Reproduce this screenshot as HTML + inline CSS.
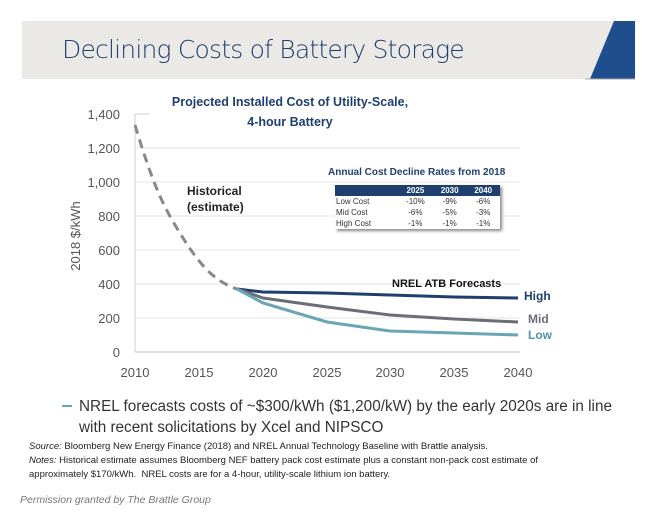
<!DOCTYPE html>
<html><head><meta charset="utf-8"><style>
body{margin:0;background:#fff;width:657px;height:517px;position:relative;overflow:hidden;font-family:"Liberation Sans",sans-serif}
.a{position:absolute;white-space:nowrap}
</style></head><body>
<div class="a" style="left:22px;top:21px;width:613px;height:58px;background:#ebe9e6"></div>
<svg class="a" style="left:0;top:0" width="657" height="517">
<polygon points="614,21 635,21 635,79 590,79" fill="#1f4e8c"/>
<line x1="585" y1="79" x2="635" y2="79" stroke="#aaa" stroke-width="1"/>
<g font-family="Liberation Sans" font-size="13" fill="#555" text-anchor="end">
<text x="120" y="119">1,400</text><text x="120" y="153">1,200</text><text x="120" y="187">1,000</text>
<text x="120" y="221">800</text><text x="120" y="255">600</text><text x="120" y="289">400</text>
<text x="120" y="323">200</text><text x="120" y="357">0</text></g>
<g font-family="Liberation Sans" font-size="13" fill="#555" text-anchor="middle">
<text x="135" y="377">2010</text><text x="199" y="377">2015</text><text x="263" y="377">2020</text>
<text x="327" y="377">2025</text><text x="390" y="377">2030</text><text x="454" y="377">2035</text><text x="518" y="377">2040</text></g>
<text transform="translate(80,236) rotate(-90)" font-size="13" fill="#555" text-anchor="middle">2018 $/kWh</text>
<g stroke="#e6e6e6"><line x1="135" y1="148" x2="520" y2="148"/><line x1="135" y1="182" x2="520" y2="182"/><line x1="135" y1="216" x2="520" y2="216"/><line x1="135" y1="250" x2="520" y2="250"/><line x1="135" y1="284" x2="520" y2="284"/><line x1="135" y1="318" x2="520" y2="318"/></g>
<line x1="135" y1="352" x2="520" y2="352" stroke="#bbb"/>
<line x1="135" y1="114" x2="180" y2="114" stroke="#ccc"/>
<line x1="380" y1="114" x2="410" y2="114" stroke="#ccc"/>
<line x1="135" y1="114" x2="135" y2="352" stroke="#ccc"/>
<path fill="none" stroke="#888" stroke-width="3" stroke-dasharray="9,6" d="M135,125 C150,175 160,200 175,225 C195,258 210,280 237,289"/>
<polyline fill="none" stroke="#1f3f6e" stroke-width="3" points="237,289 263,292 327,293 390,295 454,297 518,298"/>
<polyline fill="none" stroke="#6b6e76" stroke-width="3" points="237,289 263,298 327,307 390,315 454,319 518,322"/>
<polyline fill="none" stroke="#6aa5b5" stroke-width="3" points="237,289 263,303 327,322 390,331 454,333 518,335"/>
<line x1="62" y1="406" x2="72" y2="406" stroke="#6aa5b5" stroke-width="2"/>
</svg>
<div class="a" style="left:62px;top:35px;font-size:25px;color:#1f3f6e;font-family:'DejaVu Sans',sans-serif;font-weight:300;letter-spacing:-0.8px">Declining Costs of Battery Storage</div>
<div class="a" style="left:150px;top:92px;width:280px;text-align:center;font-size:12.5px;font-weight:bold;color:#1f3f6e;line-height:20px;background:#fff">Projected Installed Cost of Utility-Scale,<br>4-hour Battery</div>
<div class="a" style="left:187px;top:183px;font-size:12px;font-weight:bold;color:#222;line-height:16px;background:#fff">Historical<br>(estimate)</div>
<div class="a" style="left:328px;top:167px;font-size:10px;font-weight:bold;color:#1f3f6e;background:#fff">Annual Cost Decline Rates from 2018</div>
<table class="a" style="left:335px;top:185px;width:165px;border-collapse:collapse;font-size:8px;color:#333;box-shadow:2px 2px 3px #888;background:#fff">
<tr style="background:#1f3f6e;color:#fff;font-weight:bold;height:11px"><td></td><td align="center">2025</td><td align="center">2030</td><td align="center">2040</td></tr>
<tr><td>Low Cost</td><td align="center">-10%</td><td align="center">-9%</td><td align="center">-6%</td></tr>
<tr><td>Mid Cost</td><td align="center">-6%</td><td align="center">-5%</td><td align="center">-3%</td></tr>
<tr><td>High Cost</td><td align="center">-1%</td><td align="center">-1%</td><td align="center">-1%</td></tr></table>
<div class="a" style="left:392px;top:278px;font-size:11px;font-weight:bold;color:#111">NREL ATB Forecasts</div>
<div class="a" style="left:524px;top:289px;font-size:12px;font-weight:bold;color:#1f3f6e">High</div>
<div class="a" style="left:528px;top:312px;font-size:12px;font-weight:bold;color:#6b6e76">Mid</div>
<div class="a" style="left:528px;top:328px;font-size:12px;font-weight:bold;color:#4f93a5">Low</div>
<div class="a" style="left:79px;top:396px;font-size:15.3px;color:#333;line-height:21px">NREL forecasts costs of ~$300/kWh ($1,200/kW) by the early 2020s are in line<br>with recent solicitations by Xcel and NIPSCO</div>
<div class="a" style="left:29px;top:440px;font-size:9.5px;color:#222;line-height:14px"><i>Source:</i> Bloomberg New Energy Finance (2018) and NREL Annual Technology Baseline with Brattle analysis.<br><i>Notes:</i> Historical estimate assumes Bloomberg NEF battery pack cost estimate plus a constant non-pack cost estimate of<br>approximately $170/kWh.&nbsp; NREL costs are for a 4-hour, utility-scale lithium ion battery.</div>
<div class="a" style="left:20px;top:494px;font-size:10.5px;color:#777;font-style:italic">Permission granted by The Brattle Group</div>
</body></html>
